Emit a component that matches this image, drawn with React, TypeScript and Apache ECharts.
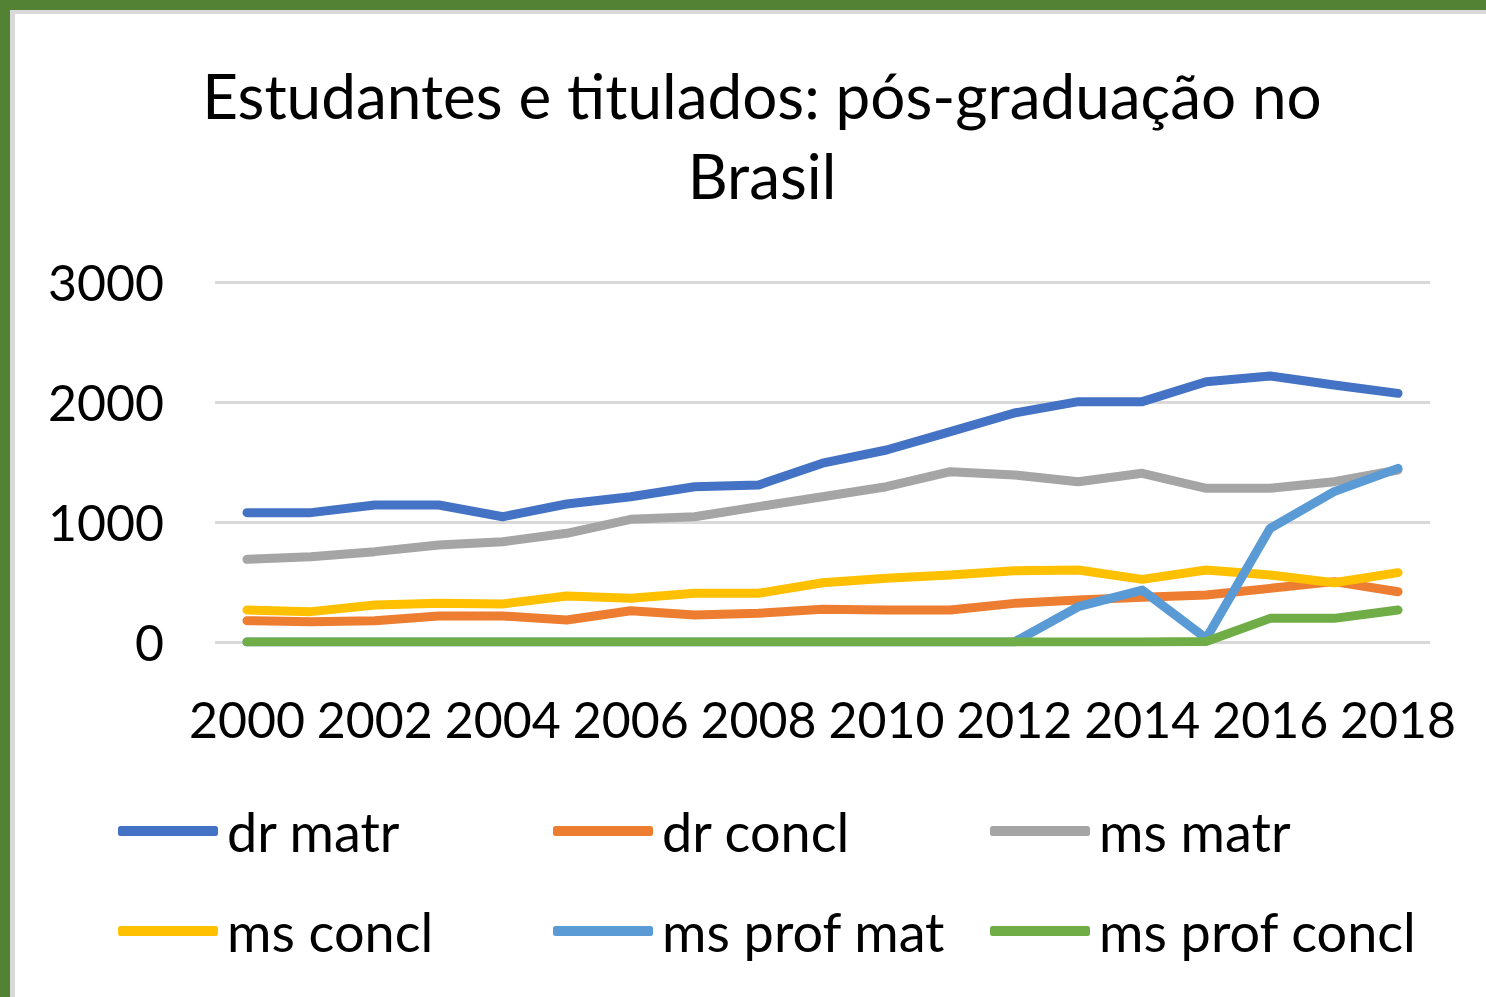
import React, { useEffect, useRef } from "react";
import * as echarts from "echarts";

const years = ["2000","2001","2002","2003","2004","2005","2006","2007","2008","2009","2010","2011","2012","2013","2014","2015","2016","2017","2018"];
const drMatr = [1078,1078,1142,1142,1044,1150,1211,1294,1308,1490,1600,1753,1908,2003,2003,2169,2217,2142,2072];
const drConcl = [178,169,178,217,217,183,261,225,239,272,267,267,322,350,372,392,447,503,419];
const msMatr = [689,711,753,808,836,906,1022,1044,1128,1211,1294,1419,1392,1336,1406,1281,1281,1336,1433];
const msConcl = [267,253,308,322,317,383,364,406,406,494,531,558,594,600,522,600,558,494,578];
const msProfMat = [0,0,0,0,0,0,0,0,0,0,0,0,0,294,433,30,947,1253,1447];
const msProfConcl = [0,0,0,0,0,0,0,0,0,0,0,0,0,0,0,5,197,197,267];
const yTicks = [0, 1000, 2000, 3000];

const seriesDefs = [
  { name: "dr matr", data: drMatr, color: "#4472C4" },
  { name: "dr concl", data: drConcl, color: "#ED7D31" },
  { name: "ms matr", data: msMatr, color: "#A5A5A5" },
  { name: "ms concl", data: msConcl, color: "#FFC000" },
  { name: "ms prof mat", data: msProfMat, color: "#5B9BD5" },
  { name: "ms prof concl", data: msProfConcl, color: "#70AD47" },
];

const FONT = "Lato";

export default function App() {
  const ref = useRef<HTMLDivElement>(null);
  useEffect(() => {
    if (!ref.current) return;
    const chart = echarts.init(ref.current, undefined, { renderer: "svg" });
    const legendCommon = {
      orient: "vertical",
      icon: "roundRect",
      itemWidth: 100,
      itemHeight: 10,
      itemGap: 40,
      top: 796,
      textStyle: { fontFamily: FONT, fontSize: 54, color: "#000", lineHeight: 60, padding: [0, 0, 0, 4] },
    };
    chart.setOption({
      animation: false,
      backgroundColor: "#ffffff",
      color: seriesDefs.map((s) => s.color),
      title: {
        text: "Estudantes e titulados: pós-graduação no\nBrasil",
        left: 757,
        textAlign: "center",
        top: 50,
        textStyle: { fontFamily: FONT, fontSize: 62, fontWeight: "normal", color: "#000", lineHeight: 80 },
      },
      graphic: [
        { type: "rect", shape: { x: 0, y: 0, width: 1486, height: 10 }, style: { fill: "#548235" }, z: 100 },
        { type: "rect", shape: { x: 0, y: 0, width: 10, height: 997 }, style: { fill: "#548235" }, z: 100 },
        { type: "rect", shape: { x: 10, y: 10, width: 1476, height: 4 }, style: { fill: "#d9d9d9" }, z: 99 },
        { type: "rect", shape: { x: 10, y: 10, width: 5, height: 987 }, style: { fill: "#d9d9d9" }, z: 99 },
      ],
      legend: [
        { ...legendCommon, left: 113, data: ["dr matr", "ms concl"] },
        { ...legendCommon, left: 548, data: ["dr concl", "ms prof mat"] },
        { ...legendCommon, left: 985, data: ["ms matr", "ms prof concl"] },
      ],
      grid: { left: 215, right: 56, top: 282, bottom: 355, containLabel: false },
      xAxis: {
        type: "category",
        data: years,
        boundaryGap: true,
        axisLine: { show: false },
        axisTick: { show: false },
        axisLabel: { interval: 1, fontFamily: FONT, fontSize: 50, color: "#000", margin: 52 },
      },
      yAxis: {
        type: "value",
        min: yTicks[0],
        max: yTicks[yTicks.length - 1],
        interval: 1000,
        axisLine: { show: false },
        axisTick: { show: false },
        axisLabel: { fontFamily: FONT, fontSize: 50, color: "#000", margin: 51, formatter: (v: number) => String(v) },
        splitLine: { lineStyle: { color: "#d9d9d9", width: 3 } },
      },
      series: seriesDefs.map((s) => ({
        name: s.name,
        type: "line",
        data: s.data,
        symbol: "none",
        lineStyle: { width: 9, color: s.color, cap: "round", join: "round" },
        itemStyle: { color: s.color },
      })),
    });
    return () => chart.dispose();
  }, []);
  return (
    <div
      ref={ref}
      style={{ position: "fixed", left: 0, top: 0, width: 1486, height: 997 }}
    />
  );
}
